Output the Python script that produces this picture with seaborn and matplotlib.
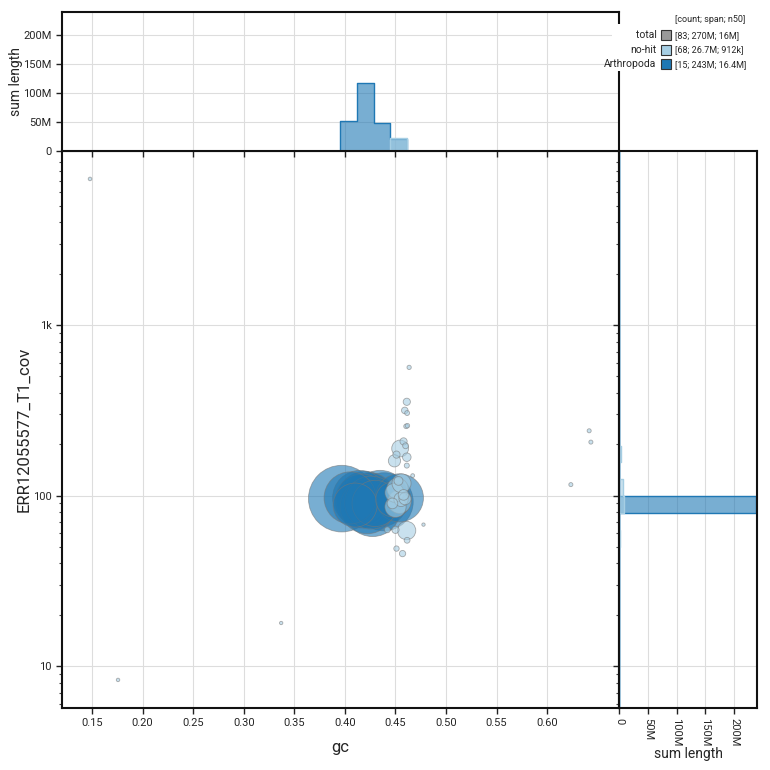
import numpy as np
import pandas as pd
import matplotlib
matplotlib.use('Agg')
import matplotlib.pyplot as plt
from matplotlib.patches import Rectangle
from matplotlib.ticker import FixedLocator, FuncFormatter, LogLocator, NullFormatter
import seaborn as sns

# --- Data ---
# Arthropoda contigs
arth_gc = [0.3969, 0.4051, 0.4101, 0.4150, 0.4170, 0.4200, 0.4220, 0.4239,
           0.4259, 0.4274, 0.4299, 0.4348, 0.4388, 0.4480, 0.4539]
arth_cov = [96, 97, 88, 97, 93, 95, 86, 94, 91, 84, 90, 96, 92, 95, 97]
arth_len = [25.0e6, 15.2e6, 10.9e6, 17.0e6, 16.4e6, 17.7e6, 16.4e6, 17.0e6,
            15.8e6, 17.7e6, 12.0e6, 18.0e6, 19.0e6, 7.0e6, 13.0e6]

# no-hit contigs (visible ones, plus the bigger ones hidden in the cluster)
nohit_gc = [0.4635, 0.4612, 0.4592, 0.4615, 0.4605, 0.4618, 0.4546, 0.4580,
            0.4600, 0.4510, 0.4612, 0.4490, 0.4612, 0.4670,
            0.4520, 0.4560, 0.4490, 0.4580, 0.4530,
            0.4540, 0.4500, 0.4595, 0.4470, 0.4555,
            0.4610, 0.4500, 0.4420, 0.4615, 0.4510, 0.4570, 0.4777,
            0.1480, 0.1757, 0.3370, 0.6415, 0.6432, 0.6234]
nohit_cov = [565, 355, 316, 305, 255, 257, 189, 208,
             196, 174, 168, 160, 150, 131,
             110, 118, 104, 101, 122,
             92, 86, 96, 90, 95,
             62.4, 63, 63, 54.7, 48.9, 45.7, 67.6,
             7200, 8.3, 17.9, 240, 206, 116]
nohit_len = [0.06e6, 0.25e6, 0.20e6, 0.09e6, 0.08e6, 0.07e6, 1.55e6, 0.25e6,
             0.15e6, 0.25e6, 0.37e6, 0.80e6, 0.10e6, 0.04e6,
             2.5e6, 2.0e6, 2.0e6, 0.6e6, 0.4e6,
             3.0e6, 2.5e6, 0.8e6, 0.6e6, 1.1e6,
             1.86e6, 0.25e6, 0.15e6, 0.15e6, 0.12e6, 0.18e6, 0.02e6,
             0.03e6, 0.025e6, 0.02e6, 0.05e6, 0.05e6, 0.05e6]

legend_names = ['total', 'no-hit', 'Arthropoda']
legend_stats = ['[83; 270M; 16M]', '[68; 26.7M; 912k]', '[15; 243M; 16.4M]']
legend_colors = ['#999999', '#a6cee3', '#1f78b4']

x_ticks = [0.15, 0.20, 0.25, 0.30, 0.35, 0.40, 0.45, 0.50, 0.55, 0.60]
y_ticks = [10, 100, 1000]
y_ticklabels = ['10', '100', '1k']
len_ticks = [0, 50e6, 100e6, 150e6, 200e6]

palette = {'no-hit': '#a6cee3', 'Arthropoda': '#1f78b4'}

df = pd.DataFrame({
    'gc': nohit_gc + arth_gc,
    'cov': nohit_cov + arth_cov,
    'length': nohit_len + arth_len,
    'cat': ['no-hit'] * len(nohit_gc) + ['Arthropoda'] * len(arth_gc),
})
# biggest first so small blobs sit on top
df = df.sort_values('length', ascending=False).reset_index(drop=True)

# bins for the marginal histograms
GC_BINW = 0.0165
GC_RANGE = (0.115, 0.115 + 35 * GC_BINW)
COV_BINW = 0.0993                       # log10 units
COV_RANGE = (0.7051, 0.7051 + 36 * COV_BINW)

# --- Figure ---
sns.set_theme(style='white')
plt.rcParams['font.family'] = ['Roboto', 'DejaVu Sans']

fig = plt.figure(figsize=(7.7, 7.7), dpi=100)
W = 770.0
def box(x0, y0, x1, y1):
    return [x0 / W, 1 - y1 / W, (x1 - x0) / W, (y1 - y0) / W]

ax = fig.add_axes(box(62, 151, 619, 708))
ax_top = fig.add_axes(box(62, 12, 619, 151), sharex=ax)
ax_right = fig.add_axes(box(619, 151, 757, 708), sharey=ax)

ax.set_yscale('log')

sns.scatterplot(data=df, x='gc', y='cov', hue='cat', palette=palette,
                size='length', sizes=(4, 2300), size_norm=(0, 25e6),
                alpha=0.6, edgecolor='#777777', linewidth=0.6,
                legend=False, ax=ax, zorder=3)

# histograms sit under the spines so the zero baseline of the step is hidden
sns.histplot(data=df, x='gc', weights='length', hue='cat',
             hue_order=['no-hit', 'Arthropoda'], palette=palette,
             binwidth=GC_BINW, binrange=GC_RANGE, element='step',
             alpha=0.6, linewidth=1, legend=False, ax=ax_top, zorder=2)

sns.histplot(data=df, y='cov', weights='length', hue='cat',
             hue_order=['no-hit', 'Arthropoda'], palette=palette,
             binwidth=COV_BINW, binrange=COV_RANGE, element='step',
             alpha=0.6, linewidth=1, log_scale=True, legend=False,
             ax=ax_right, zorder=2)

# --- Axes styling ---
ax.set_xlim(0.1203, 0.671)
ax.set_ylim(5.68, 10500)
ax_top.set_ylim(0, 240e6)
ax_right.set_xlim(0, 240e6)

grid_kw = dict(color='#dddddd', linewidth=0.8)
for a in (ax, ax_top, ax_right):
    for s in a.spines.values():
        s.set_linewidth(1.5)
        s.set_color('#111111')
        s.set_zorder(2.5)
    a.set_axisbelow(True)
    a.grid(True, which='major', **grid_kw)
    a.tick_params(which='major', length=4, width=1, color='#222222', labelsize=8)
    a.tick_params(which='minor', length=2.5, width=0.8, color='#444444')

ax.xaxis.set_major_locator(FixedLocator(x_ticks))
ax.xaxis.set_major_formatter(FuncFormatter(lambda v, p: f'{v:.2f}'))
ax.yaxis.set_major_locator(FixedLocator(y_ticks))
ax.yaxis.set_major_formatter(FuncFormatter(
    lambda v, p: y_ticklabels[y_ticks.index(int(round(v)))] if int(round(v)) in y_ticks else ''))
ax.yaxis.set_minor_locator(LogLocator(base=10, subs=np.arange(2, 10)))
ax.yaxis.set_minor_formatter(NullFormatter())
ax.tick_params(axis='x', which='both', bottom=True, top=False)
ax.tick_params(axis='y', which='both', left=True, right=False)
ax.set_xlabel('gc', fontsize=12, labelpad=8)
ax.set_ylabel('ERR12055577_T1_cov', fontsize=12, labelpad=1)

len_fmt = FuncFormatter(lambda v, p: '0' if v == 0 else f'{v / 1e6:.0f}M')
ax_top.yaxis.set_major_locator(FixedLocator(len_ticks))
ax_top.yaxis.set_major_formatter(len_fmt)
ax_top.tick_params(axis='x', which='both', bottom=True, labelbottom=False)
ax_top.tick_params(axis='y', left=True)
ax_top.set_xlabel('')
ax_top.set_ylabel('sum length', fontsize=10, labelpad=0)

ax_right.xaxis.set_major_locator(FixedLocator(len_ticks))
ax_right.xaxis.set_major_formatter(len_fmt)
ax_right.tick_params(axis='x', bottom=True, labelrotation=-90)
ax_right.tick_params(axis='y', which='both', left=True, labelleft=False)
ax_right.set_ylabel('')
ax_right.set_xlabel('sum length', fontsize=10, labelpad=0)

# --- Legend (drawn by hand to mimic the blobtoolkit layout) ---
fig.add_artist(Rectangle((612 / W, 1 - 71 / W), (W - 612) / W, 47 / W,
                         transform=fig.transFigure, facecolor='white',
                         edgecolor='none', zorder=5))
fig.text(675 / W, 1 - 20 / W, '[count; span; n50]', fontsize=6.5,
         va='center', ha='left', zorder=6)
for i, (name, stat, col) in enumerate(zip(legend_names, legend_stats, legend_colors)):
    yc = 35.3 + i * 14.5
    fig.add_artist(Rectangle((660.5 / W, 1 - (yc + 5) / W), 10 / W, 10 / W,
                             transform=fig.transFigure, facecolor=col,
                             edgecolor='#333333', linewidth=0.8, zorder=6))
    fig.text(656.5 / W, 1 - yc / W, name, fontsize=7.5, ha='right', va='center', zorder=6)
    fig.text(675 / W, 1 - yc / W, stat, fontsize=6.5, ha='left', va='center', zorder=6)

fig.savefig('out.png', dpi=100)
print('saved out.png')
